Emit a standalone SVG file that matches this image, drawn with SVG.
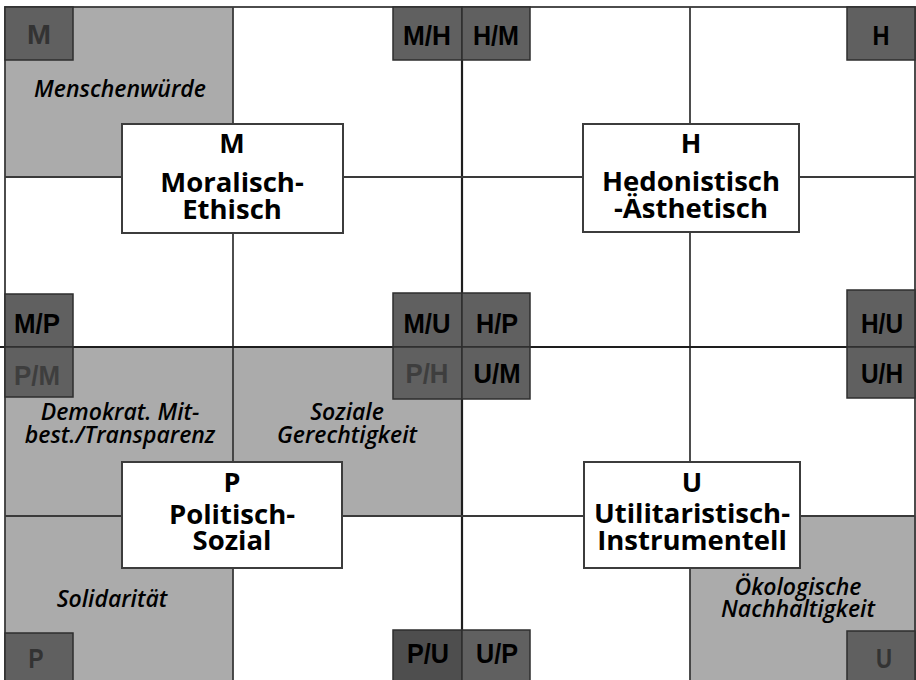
<svg xmlns="http://www.w3.org/2000/svg" width="916" height="680" viewBox="0 0 916 680">
<style>
.bg{fill:#ffffff}
.gray{fill:#ababab}
.grid{stroke:#3a3a3a;stroke-width:1.8;fill:none}
.gridc{stroke:#1e1e1e;stroke-width:2.2;fill:none}
.tag{fill:#606060;stroke:#2e2e2e;stroke-width:1.5}
.tagd{fill:#4e4e4e;stroke:#2e2e2e;stroke-width:1.5}
.tt{font-family:"Liberation Sans",Arial,sans-serif;font-weight:bold;font-size:28px;text-anchor:middle;fill:#000}
.ts{font-family:"Liberation Sans",Arial,sans-serif;font-weight:bold;font-size:28px;text-anchor:middle;fill:#333}
.tg{fill:#3e3e3e}
.box{fill:#ffffff;stroke:#3c3c3c;stroke-width:2}
.bl{font-family:"Open Sans","Liberation Sans",sans-serif;font-weight:bold;font-size:27px;text-anchor:middle;fill:#000}
.bt{font-family:"Open Sans","Liberation Sans",sans-serif;font-weight:bold;font-size:27.5px;text-anchor:middle;fill:#000}
.it{font-family:"Open Sans","Liberation Sans",sans-serif;font-weight:600;font-style:italic;font-size:23px;text-anchor:middle;fill:#000}
</style>
<rect class="bg" x="0" y="0" width="916" height="680"/>
<g id="areas">
<rect class="gray" x="5" y="7" width="228" height="170"/>
<rect class="gray" x="5" y="347" width="457" height="169"/>
<rect class="gray" x="5" y="516" width="228" height="170"/>
<rect class="gray" x="690" y="516" width="226" height="170"/>
</g>
<g id="connectors">
<rect class="grid" x="5" y="7" width="910" height="690"/>
<line class="grid" x1="233" y1="7" x2="233" y2="686"/>
<line class="grid" x1="690" y1="7" x2="690" y2="686"/>
<line class="gridc" x1="462" y1="7" x2="462" y2="686"/>
<line class="grid" x1="5" y1="177" x2="915" y2="177"/>
<line class="gridc" x1="0" y1="347" x2="916" y2="347"/>
<line class="grid" x1="5" y1="516" x2="915" y2="516"/>
</g>
<g id="tag-M"><rect class="tag" x="5" y="7" width="68" height="53"/><text class="ts" x="39" y="44" textLength="24" lengthAdjust="spacingAndGlyphs">M</text></g>
<g id="tag-MH"><rect class="tag" x="393" y="7" width="69" height="53"/><text class="tt" x="427" y="45" textLength="48" lengthAdjust="spacingAndGlyphs">M/H</text></g>
<g id="tag-HM"><rect class="tag" x="462" y="7" width="68" height="53"/><text class="tt" x="496" y="45" textLength="46" lengthAdjust="spacingAndGlyphs">H/M</text></g>
<g id="tag-H"><rect class="tag" x="847" y="7" width="68" height="53"/><text class="tt" x="881" y="45" textLength="17" lengthAdjust="spacingAndGlyphs">H</text></g>
<g id="tag-MP"><rect class="tag" x="5" y="294" width="68" height="53"/><text class="tt" x="37" y="333" textLength="46" lengthAdjust="spacingAndGlyphs">M/P</text></g>
<g id="tag-PM"><rect class="tag" x="5" y="347" width="68" height="50"/><text class="tt tg" x="37" y="385" textLength="46" lengthAdjust="spacingAndGlyphs">P/M</text></g>
<g id="tag-MU"><rect class="tag" x="393" y="293" width="69" height="54"/><text class="tt" x="427" y="333" textLength="47" lengthAdjust="spacingAndGlyphs">M/U</text></g>
<g id="tag-HP"><rect class="tag" x="462" y="293" width="68" height="54"/><text class="tt" x="497" y="333" textLength="42" lengthAdjust="spacingAndGlyphs">H/P</text></g>
<g id="tag-PH"><rect class="tag" x="393" y="347" width="69" height="52"/><text class="tt tg" x="427" y="383" textLength="43" lengthAdjust="spacingAndGlyphs">P/H</text></g>
<g id="tag-UM"><rect class="tag" x="462" y="347" width="68" height="52"/><text class="tt" x="497" y="383" textLength="47" lengthAdjust="spacingAndGlyphs">U/M</text></g>
<g id="tag-HU"><rect class="tag" x="847" y="290" width="68" height="57"/><text class="tt" x="882" y="333" textLength="42" lengthAdjust="spacingAndGlyphs">H/U</text></g>
<g id="tag-UH"><rect class="tag" x="847" y="347" width="68" height="51"/><text class="tt" x="882" y="383" textLength="42" lengthAdjust="spacingAndGlyphs">U/H</text></g>
<g id="tag-P"><rect class="tag" x="5" y="633" width="68" height="53"/><text class="ts" x="36" y="668" textLength="15" lengthAdjust="spacingAndGlyphs">P</text></g>
<g id="tag-PU"><rect class="tagd" x="393" y="630" width="69" height="56"/><text class="tt" x="428" y="663" textLength="42" lengthAdjust="spacingAndGlyphs">P/U</text></g>
<g id="tag-UP"><rect class="tag" x="462" y="630" width="68" height="56"/><text class="tt" x="497" y="663" textLength="42" lengthAdjust="spacingAndGlyphs">U/P</text></g>
<g id="tag-U"><rect class="tag" x="847" y="631" width="68" height="55"/><text class="ts" x="884" y="668" textLength="16" lengthAdjust="spacingAndGlyphs">U</text></g>
<g id="node-M"><rect class="box" x="122" y="124" width="221" height="109"/><text class="bl" x="232" y="153">M</text><text class="bt" x="232" y="192">Moralisch-</text><text class="bt" x="232" y="219">Ethisch</text></g>
<g id="node-H"><rect class="box" x="583" y="124" width="216" height="108"/><text class="bl" x="691" y="153">H</text><text class="bt" x="691" y="191">Hedonistisch</text><text class="bt" x="691" y="218">-Ästhetisch</text></g>
<g id="node-P"><rect class="box" x="122" y="462" width="220" height="106"/><text class="bl" x="232" y="492">P</text><text class="bt" x="232" y="524">Politisch-</text><text class="bt" x="232" y="550">Sozial</text></g>
<g id="node-U"><rect class="box" x="584" y="462" width="216" height="106"/><text class="bl" x="692" y="492">U</text><text class="bt" x="692" y="523">Utilitaristisch-</text><text class="bt" x="692" y="550">Instrumentell</text></g>
<g id="labels">
<text class="it" x="120" y="97">Menschenwürde</text>
<text class="it" x="120" y="420">Demokrat. Mit-</text>
<text class="it" x="120" y="443">best./Transparenz</text>
<text class="it" x="347" y="420">Soziale</text>
<text class="it" x="347" y="443">Gerechtigkeit</text>
<text class="it" x="112" y="607">Solidarität</text>
<text class="it" x="798" y="595">Ökologische</text>
<text class="it" x="798" y="617">Nachhaltigkeit</text>
</g>
</svg>
